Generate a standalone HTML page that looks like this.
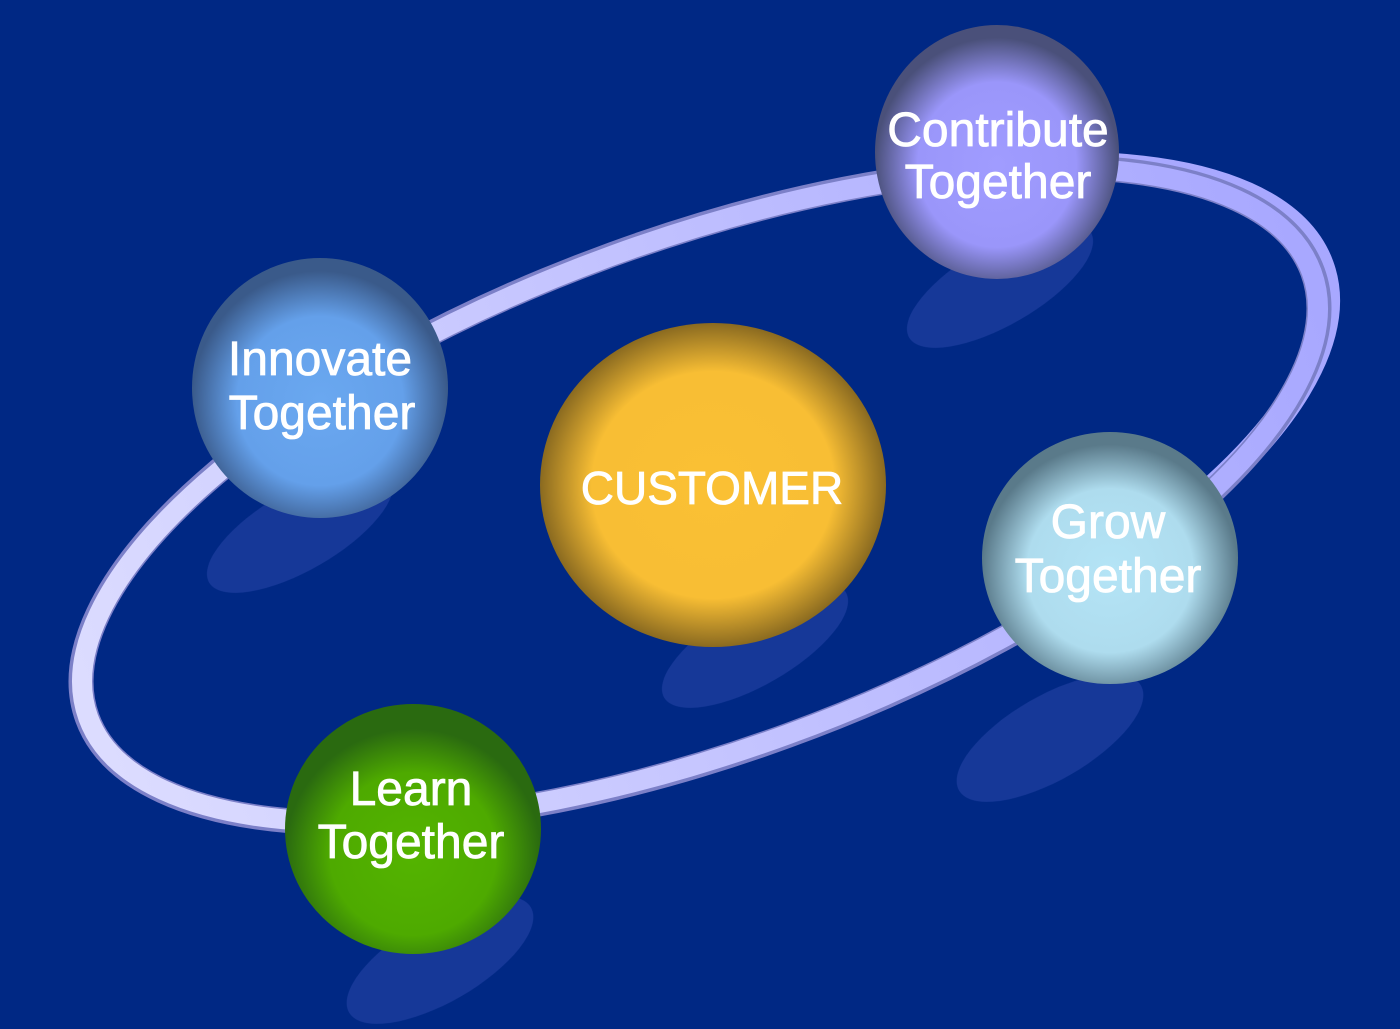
<!DOCTYPE html>
<html><head><meta charset="utf-8"><style>
html,body{margin:0;padding:0;background:#002884;}
svg{display:block}
text{font-family:"Liberation Sans",sans-serif;fill:#fff;font-size:48px;text-anchor:middle;stroke:#fff;stroke-width:0.8;}
</style></head><body>
<svg width="1400" height="1029" viewBox="0 0 1400 1029" xmlns="http://www.w3.org/2000/svg">
<defs>
<radialGradient id="gC" cx="50%" cy="50%" r="50%"><stop offset="0" stop-color="#fac034"/><stop offset="0.7" stop-color="#f8be34"/><stop offset="1" stop-color="#8a6a20"/></radialGradient>
<radialGradient id="gP" cx="50%" cy="55%" r="50%"><stop offset="0" stop-color="#a09cff"/><stop offset="0.65" stop-color="#9a96fa"/><stop offset="1" stop-color="#4a507a"/></radialGradient>
<radialGradient id="gB" cx="50%" cy="55%" r="50%"><stop offset="0" stop-color="#6aa8f0"/><stop offset="0.65" stop-color="#64a0ea"/><stop offset="1" stop-color="#3a5a8a"/></radialGradient>
<radialGradient id="gL" cx="50%" cy="55%" r="50%"><stop offset="0" stop-color="#b4e4f6"/><stop offset="0.65" stop-color="#aedcee"/><stop offset="1" stop-color="#5a7a8a"/></radialGradient>
<radialGradient id="gG" cx="50%" cy="60%" r="50%"><stop offset="0" stop-color="#54b400"/><stop offset="0.65" stop-color="#4eaa00"/><stop offset="1" stop-color="#2a6a10"/></radialGradient>
<linearGradient id="ring" x1="0" y1="0" x2="1" y2="0"><stop offset="0" stop-color="#dcdcff"/><stop offset="1" stop-color="#a8a8ff"/></linearGradient>
<clipPath id="rc"><rect x="1050" y="0" width="400" height="1029"/></clipPath>
</defs>
<g fill="#1a3c9c" opacity="0.85">
<ellipse cx="1000" cy="285" rx="105" ry="40" transform="rotate(-30 1000 285)"/>
<ellipse cx="300" cy="530" rx="105" ry="40" transform="rotate(-30 300 530)"/>
<ellipse cx="755" cy="645" rx="105" ry="40" transform="rotate(-30 755 645)"/>
<ellipse cx="1050" cy="738" rx="105" ry="42" transform="rotate(-30 1050 738)"/>
<ellipse cx="440" cy="960" rx="105" ry="42" transform="rotate(-30 440 960)"/>
</g>
<g clip-path="url(#rc)">
<g transform="rotate(-20 700 495)">
<ellipse cx="712" cy="492" rx="650" ry="250" fill="none" stroke="#a8a8ff" stroke-width="26"/>
</g></g>
<g transform="rotate(-20 700 495)">
<ellipse cx="700" cy="495" rx="652" ry="256" fill="none" stroke="#7c80c8" stroke-width="25"/>
<ellipse cx="700" cy="495" rx="651" ry="255" fill="none" stroke="url(#ring)" stroke-width="20"/>
</g>
<ellipse cx="997" cy="152" rx="122" ry="127" fill="url(#gP)"/>
<ellipse cx="320" cy="388" rx="128" ry="130" fill="url(#gB)"/>
<ellipse cx="713" cy="485" rx="173" ry="162" fill="url(#gC)"/>
<ellipse cx="1110" cy="558" rx="128" ry="126" fill="url(#gL)"/>
<ellipse cx="413" cy="829" rx="128" ry="125" fill="url(#gG)"/>
<text x="998" y="146">Contribute</text><text x="998" y="198">Together</text>
<text x="320" y="375">Innovate</text><text x="322" y="429">Together</text>
<text x="712" y="504" style="font-size:46px">CUSTOMER</text>
<text x="1108" y="538">Grow</text><text x="1108" y="592">Together</text>
<text x="411" y="805">Learn</text><text x="411" y="858">Together</text>
</svg>
</body></html>
